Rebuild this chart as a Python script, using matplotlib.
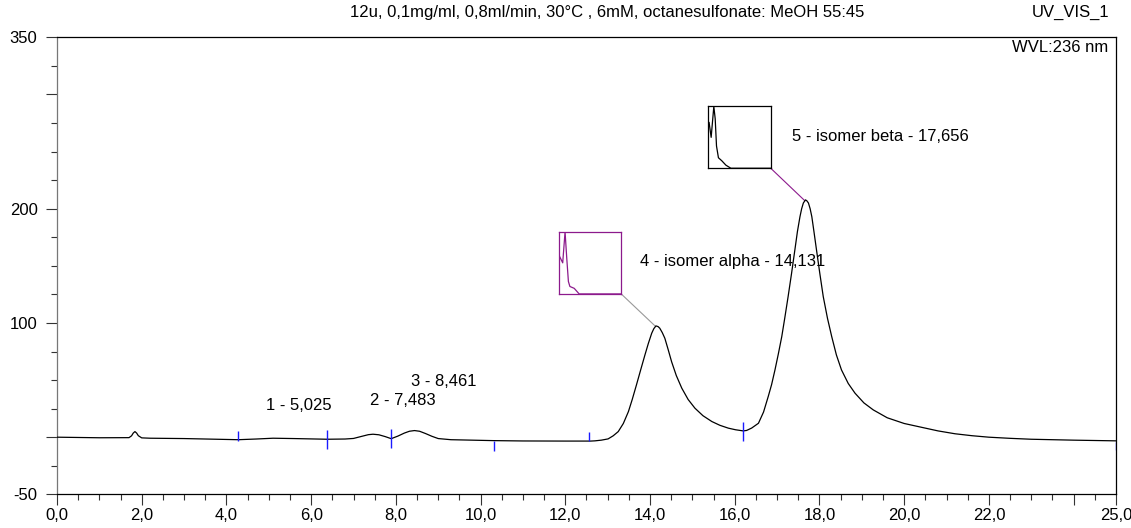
import numpy as np
import matplotlib.pyplot as plt
from matplotlib.ticker import FixedLocator, MultipleLocator

plt.rcParams['font.family'] = ['Liberation Sans', 'DejaVu Sans']

# Chromatogram trace (time in min, signal in mAU)
time_min = [0.0, 1.0, 1.70, 1.76, 1.80, 1.84, 1.88, 1.92, 2.0, 2.2, 3.0, 4.28, 4.7,
            5.1, 5.6, 6.38, 6.8, 7.0, 7.2, 7.35, 7.46, 7.6, 7.75, 7.89, 8.05, 8.2,
            8.32, 8.44, 8.56, 8.7, 8.85, 9.0, 9.3, 10.3, 11.0, 12.0, 12.6, 12.7,
            12.85, 13.01, 13.13, 13.25, 13.37, 13.49, 13.58, 13.68, 13.78, 13.88,
            13.96, 14.04, 14.09, 14.14, 14.19, 14.23, 14.29, 14.35, 14.43, 14.51,
            14.62, 14.75, 14.9, 15.06, 15.25, 15.46, 15.65, 15.85, 16.02, 16.2,
            16.28, 16.4, 16.56, 16.68, 16.79, 16.87, 16.95, 17.03, 17.11, 17.18,
            17.26, 17.34, 17.42, 17.48, 17.54, 17.58, 17.62, 17.67, 17.70, 17.74,
            17.78, 17.82, 17.87, 17.93, 18.01, 18.09, 18.19, 18.29, 18.40, 18.52,
            18.68, 18.84, 19.05, 19.27, 19.6, 20.0, 20.43, 20.8, 21.2, 21.6, 22.0,
            22.5, 23.0, 24.0, 25.0]
signal = [0.0, -0.5, -0.4, 1.2, 3.6, 4.9, 3.6, 1.3, -0.6, -0.9, -1.2, -2.2, -1.6,
          -0.9, -1.2, -1.8, -1.6, -1.1, 0.8, 2.2, 2.6, 2.1, 0.5, -1.3, 1.0, 3.6,
          5.2, 5.8, 5.2, 3.2, 0.8, -1.2, -2.2, -3.0, -3.3, -3.4, -3.4, -3.2,
          -2.6, -1.5, 1.2, 4.9, 12.0, 22.4, 33.0, 45.8, 59.0, 72.0,
          82.0, 91.0, 95.0, 97.4, 96.8, 95.4, 91.5, 86.6, 76.5, 66.0,
          54.0, 42.9, 33.0, 25.4, 18.8, 13.7, 10.4, 7.9, 6.5, 5.5,
          5.9, 8.0, 12.2, 22.0, 35.5, 46.0, 58.9, 73.0, 88.0, 104.0,
          123.0, 143.0, 164.0, 180.0, 193.0, 200.0, 205.0, 207.7, 207.0, 205.0,
          200.0, 193.0, 180.0, 164.0, 143.0, 123.0, 104.0, 88.0, 72.0, 58.9,
          47.0, 38.5, 30.0, 23.9, 17.0, 12.0, 8.5, 5.5, 3.0, 1.3, 0.0,
          -1.0, -1.8, -2.6, -3.2]

# Peak delimiter marks (blue)
mark_time = [4.28, 6.38, 7.89, 10.31, 12.57, 16.2, 25.0]
mark_low = [-3.0, -10.3, -9.6, -11.8, -3.2, -3.2, -11.1]
mark_high = [5.8, 6.4, 7.3, -3.0, 4.9, 13.7, -3.9]

# Peak table
peak_no = [1, 2, 3, 4, 5]
peak_name = ['', '', '', 'isomer alpha', 'isomer beta']
peak_rt = [5.025, 7.483, 8.461, 14.131, 17.656]

# Mini spectra shown in the boxes for peaks 4 and 5 (normalised)
spec4_x = [0.0, 0.054, 0.092, 0.119, 0.146, 0.17, 0.24, 0.32, 1.0]
spec4_y = [0.61, 0.50, 1.0, 0.58, 0.20, 0.12, 0.09, 0.0, 0.0]
spec5_x = [0.01, 0.043, 0.086, 0.108, 0.129, 0.16, 0.215, 0.28, 0.36, 1.0]
spec5_y = [0.74, 0.50, 1.0, 0.80, 0.36, 0.17, 0.12, 0.05, 0.0, 0.0]

# axis ticks
ytick_major = [-50, 0, 100, 200, 300, 350]
ytick_text = ['-50', '', '100', '200', '', '350']
xtick_major = [0, 2, 4, 6, 8, 10, 12, 14, 16, 18, 20, 22, 24, 25]
xtick_text = ['0,0', '2,0', '4,0', '6,0', '8,0', '10,0', '12,0', '14,0', '16,0',
              '18,0', '20,0', '22,0', '', '25,0']

purple = '#8c1a8c'
fs = 12

fig = plt.figure(figsize=(11.31, 5.28), dpi=100)
ax = fig.add_axes([0.0504, 0.0638, 0.9363, 0.8655])

ax.plot(time_min, signal, color='black', lw=0.9, zorder=3)
ax.vlines(mark_time, mark_low, mark_high, color='#1a1aff', lw=1.0, zorder=4)

ax.set_xlim(0, 25)
ax.set_ylim(-50, 350)

# axis styling
ax.xaxis.set_major_locator(FixedLocator(xtick_major))
ax.set_xticklabels(xtick_text, fontsize=fs)
ax.xaxis.set_minor_locator(MultipleLocator(0.5))
ax.yaxis.set_major_locator(FixedLocator(ytick_major))
ax.set_yticklabels(ytick_text, fontsize=fs)
ax.yaxis.set_minor_locator(MultipleLocator(25))
ax.tick_params(which='major', length=8, width=0.8, color='#333333')
ax.tick_params(which='minor', length=4, width=0.8, color='#333333')
ax.tick_params(axis='x', which='major', pad=2)
ax.tick_params(axis='y', which='major', pad=6)
ax.spines['left'].set_color('#777777')
for side in ['top', 'right', 'bottom']:
    ax.spines[side].set_color('black')
for side in ax.spines:
    ax.spines[side].set_linewidth(0.9)

# peak labels
label_pos = [(5.71, 28.0, 'center'), (8.16, 31.8, 'center'), (9.13, 48.8, 'center'),
             (13.77, 154.0, 'left'), (17.36, 263.0, 'left')]
for n, name, rt, (lx, ly, ha) in zip(peak_no, peak_name, peak_rt, label_pos):
    rt_txt = f"{rt:.3f}".replace('.', ',')
    txt = f"{n} - {name} - {rt_txt}" if name else f"{n} - {rt_txt}"
    ax.text(lx, ly, txt, fontsize=fs, ha=ha, va='center', zorder=5)

# spectrum boxes with connector lines to the peak apex
boxes = [(11.86, 125.4, 1.46, 54.4, purple, spec4_x, spec4_y, '#999999', peak_rt[3]),
         (15.38, 235.4, 1.47, 54.1, 'black', spec5_x, spec5_y, purple, peak_rt[4])]
for bx, by, bw, bh, col, sx, sy, lcol, rt in boxes:
    ins = ax.inset_axes([bx, by, bw, bh], transform=ax.transData)
    ins.plot(sx, sy, color=col, lw=0.9)
    ins.set_xlim(0, 1)
    ins.set_ylim(0, 1.0)
    ins.set_xticks([])
    ins.set_yticks([])
    for s in ins.spines.values():
        s.set_color(col)
        s.set_linewidth(0.9)
    apex = np.interp(rt, time_min, signal)
    ax.plot([bx + bw, rt], [by, apex], color=lcol, lw=0.8, zorder=2)

# header texts
fig.text(0.537, 0.977, '12u, 0,1mg/ml, 0,8ml/min, 30°C , 6mM, octanesulfonate: MeOH 55:45',
         ha='center', va='center', fontsize=fs)
fig.text(0.981, 0.977, 'UV_VIS_1', ha='right', va='center', fontsize=fs)
ax.text(0.9925, 0.977, 'WVL:236 nm', transform=ax.transAxes, ha='right', va='center',
        fontsize=fs)

fig.savefig('out.png', dpi=100)
